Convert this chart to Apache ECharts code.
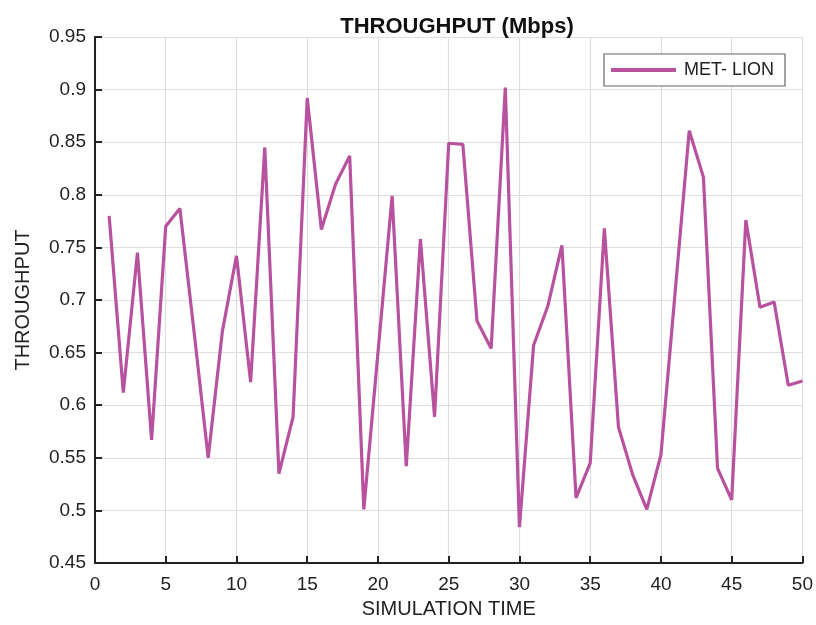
<!DOCTYPE html>
<html>
<head>
<meta charset="utf-8">
<script src="https://cdn.jsdelivr.net/npm/echarts@6/dist/echarts.min.js"></script>
<style>html,body{margin:0;padding:0;background:#fff}#c{width:816px;height:625px}</style>
</head>
<body>
<div id="c"></div>
<script>
const titleText = 'THROUGHPUT (Mbps)';
const seriesName = 'MET- LION';
const xName = 'SIMULATION TIME';
const yName = 'THROUGHPUT';
const timeValues = [1,2,3,4,5,6,7,8,9,10,11,12,13,14,15,16,17,18,19,20,21,22,23,24,25,26,27,28,29,30,31,32,33,34,35,36,37,38,39,40,41,42,43,44,45,46,47,48,49,50];
const throughput = [0.780,0.612,0.745,0.567,0.770,0.787,0.670,0.550,0.670,0.742,0.622,0.845,0.535,0.589,0.892,0.767,0.810,0.837,0.501,0.650,0.799,0.542,0.758,0.589,0.849,0.848,0.680,0.654,0.902,0.484,0.657,0.694,0.752,0.512,0.545,0.768,0.579,0.534,0.501,0.553,0.707,0.861,0.817,0.540,0.510,0.776,0.693,0.698,0.619,0.623];

const chart = echarts.init(document.getElementById('c'));
const font = '"Liberation Sans", Arial, sans-serif';
chart.setOption({
  animation: false,
  backgroundColor: '#fff',
  title: {
    text: titleText, left: 452, top: 11, textAlign: 'center',
    textStyle: {fontFamily: font, fontWeight: 'bold', fontSize: 22, color: '#111'}
  },
  legend: {
    right: 31, top: 54, data: [seriesName],
    backgroundColor: '#fff', borderColor: '#666', borderWidth: 1.2, borderRadius: 0,
    padding: [7, 11, 7, 7], itemWidth: 65, itemHeight: 4, itemGap: 8,
    icon: 'rect',
    textStyle: {fontFamily: font, fontSize: 18, color: '#222', padding: [0, 0, 0, 3]}
  },
  grid: {left: 95, right: 13, top: 37, bottom: 62, containLabel: false},
  xAxis: {
    type: 'value', min: 0, max: 50, interval: 5,
    name: xName, nameLocation: 'middle', nameGap: 36,
    nameTextStyle: {fontFamily: font, fontSize: 20, color: '#222'},
    axisLine: {show: true, onZero: false, lineStyle: {color: '#222', width: 2}},
    axisTick: {show: true, inside: true, length: 7, lineStyle: {color: '#222', width: 2}},
    axisLabel: {fontFamily: font, fontSize: 19, color: '#222', margin: 12},
    splitLine: {show: true, lineStyle: {color: '#dedede', width: 1.2}}
  },
  yAxis: {
    type: 'value', min: 0.45, max: 0.95, interval: 0.05,
    name: yName, nameLocation: 'middle', nameGap: 62, nameRotate: 90,
    nameTextStyle: {fontFamily: font, fontSize: 20, color: '#222'},
    axisLine: {show: true, onZero: false, lineStyle: {color: '#222', width: 2}},
    axisTick: {show: true, inside: true, length: 7, lineStyle: {color: '#222', width: 2}},
    axisLabel: {fontFamily: font, fontSize: 19, color: '#222', margin: 9,
      formatter: v => String(+v.toFixed(2))},
    splitLine: {show: true, lineStyle: {color: '#dedede', width: 1.2}}
  },
  series: [{
    name: seriesName, type: 'line',
    data: timeValues.map((t, i) => [t, throughput[i]]),
    showSymbol: false, symbol: 'none',
    lineStyle: {color: '#b8529f', width: 3.2},
    itemStyle: {color: '#b8529f'}
  }]
});
</script>
</body>
</html>
